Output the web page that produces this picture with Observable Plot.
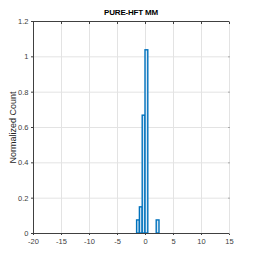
<!DOCTYPE html>
<html><head><meta charset="utf-8">
<script src="https://cdn.jsdelivr.net/npm/d3@7"></script>
<script src="https://cdn.jsdelivr.net/npm/@observablehq/plot@0.6"></script>
<style>
html,body{margin:0;padding:0;background:#fff;}
#c{position:relative;width:254px;height:262px;}
#t{position:absolute;left:0;width:262px;top:8px;text-align:center;font:bold 8px "Liberation Sans",Arial,sans-serif;color:#000;letter-spacing:-0.2px;}
</style></head><body>
<div id="c"><div id="t">PURE-HFT MM</div></div>
<script>
const binStart = [-1.5, -1.0, -0.5, 0.0, 0.5, 1.0, 1.5, 2.0];
const binEnd   = [-1.0, -0.5, 0.0, 0.5, 1.0, 1.5, 2.0, 2.5];
const normCount = [0.074, 0.148, 0.667, 1.037, 0, 0, 0, 0.074];
const xTicks = [-20, -15, -10, -5, 0, 5, 10, 15];
const yTicks = [0, 0.2, 0.4, 0.6, 0.8, 1, 1.2];
const yTickLabels = ["0", "0.2", "0.4", "0.6", "0.8", "1", "1.2"];

const bins = binStart.map((s, i) => ({x1: s, x2: binEnd[i], y: normCount[i]}));
const font = "Liberation Sans, Arial, sans-serif";
const plot = Plot.plot({
  width: 254, height: 262,
  marginLeft: 33, marginRight: 25, marginTop: 21, marginBottom: 29,
  style: {fontFamily: font, fontSize: "7px", color: "#404040", background: "#fff"},
  x: {domain: [-20, 15]},
  y: {domain: [0, 1.2]},
  marks: [
    Plot.gridX(xTicks, {stroke: "#e3e3e3", strokeOpacity: 1}),
    Plot.gridY(yTicks, {stroke: "#e3e3e3", strokeOpacity: 1}),
    Plot.rectY(bins, {x1: "x1", x2: "x2", y: "y", fill: "#d7e8f5", stroke: "#0072BD", strokeWidth: 1.4, inset: 0}),
    Plot.axisX(xTicks, {tickSize: 2, tickPadding: 3, fontSize: 7.5, stroke: "#404040", label: null, tickFormat: d => String(d)}),
    Plot.axisX(xTicks, {anchor: "top", tickSize: -2, text: null, stroke: "#404040", label: null}),
    Plot.axisY(yTicks, {tickSize: 2, tickPadding: 3, fontSize: 7.5, stroke: "#404040", tickFormat: (d, i) => yTickLabels[i],
      label: null}),
    Plot.text(["Normalized Count"], {frameAnchor: "left", dx: -20, rotate: -90, fontSize: 9, fill: "#262626", textAnchor: "middle"}),
    Plot.axisY(yTicks, {anchor: "right", tickSize: -2, text: null, stroke: "#aaaaaa", label: null}),
    Plot.ruleY([0], {stroke: "#404040", strokeWidth: 1}),
    Plot.ruleX([-20], {stroke: "#404040", strokeWidth: 1}),
    Plot.ruleY([1.2], {stroke: "#404040", strokeWidth: 1})
  ]
});
document.getElementById("c").appendChild(plot);
</script>
</body></html>
